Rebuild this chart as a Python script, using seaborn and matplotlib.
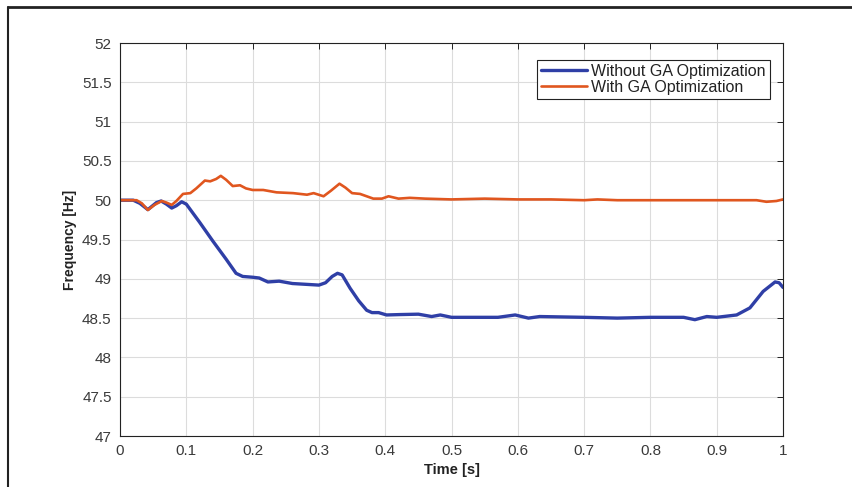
import numpy as np
import pandas as pd
import matplotlib
matplotlib.use("Agg")
import matplotlib.pyplot as plt
import seaborn as sns
from matplotlib.lines import Line2D

# Frequency response
t_without = [0.0, 0.02, 0.03, 0.042, 0.055, 0.062, 0.07, 0.078, 0.085, 0.093,
             0.1, 0.12, 0.14, 0.16, 0.175, 0.185, 0.2, 0.21, 0.223, 0.24,
             0.26, 0.28, 0.3, 0.31, 0.32, 0.328, 0.335, 0.347, 0.36, 0.372,
             0.38, 0.39, 0.402, 0.422, 0.45, 0.47, 0.483, 0.5, 0.57, 0.596,
             0.616, 0.633, 0.7, 0.75, 0.8, 0.85, 0.867, 0.885, 0.9, 0.93,
             0.95, 0.97, 0.988, 0.994, 1.0]
f_without = [50.0, 50.0, 49.96, 49.88, 49.97, 49.99, 49.95, 49.9, 49.93, 49.98,
             49.95, 49.72, 49.48, 49.25, 49.07, 49.03, 49.02, 49.01, 48.96, 48.97,
             48.94, 48.93, 48.92, 48.95, 49.03, 49.07, 49.05, 48.88, 48.72, 48.6,
             48.57, 48.57, 48.54, 48.545, 48.55, 48.52, 48.54, 48.51, 48.51, 48.54,
             48.5, 48.52, 48.51, 48.5, 48.51, 48.51, 48.48, 48.52, 48.51, 48.54,
             48.63, 48.84, 48.96, 48.95, 48.89]

t_with = [0.0, 0.025, 0.033, 0.042, 0.052, 0.063, 0.07, 0.078, 0.085, 0.095,
          0.106, 0.115, 0.128, 0.136, 0.145, 0.152, 0.16, 0.17, 0.181, 0.19,
          0.2, 0.216, 0.236, 0.261, 0.282, 0.292, 0.307, 0.318, 0.331, 0.34,
          0.35, 0.362, 0.372, 0.382, 0.395, 0.405, 0.42, 0.437, 0.46, 0.5,
          0.55, 0.6, 0.65, 0.7, 0.72, 0.75, 0.8, 0.9, 0.96, 0.975, 0.99, 1.0]
f_with = [50.0, 50.0, 49.96, 49.875, 49.94, 49.99, 49.97, 49.94, 49.99, 50.08,
          50.09, 50.15, 50.25, 50.24, 50.27, 50.31, 50.26, 50.18, 50.19, 50.15,
          50.13, 50.13, 50.1, 50.09, 50.07, 50.09, 50.05, 50.12, 50.21, 50.16,
          50.09, 50.08, 50.05, 50.02, 50.02, 50.05, 50.02, 50.03, 50.02, 50.01,
          50.02, 50.01, 50.01, 50.0, 50.01, 50.0, 50.0, 50.0, 50.0, 49.98, 49.99, 50.01]

x_ticks = np.round(np.arange(0, 1.01, 0.1), 1)
y_ticks = np.arange(47, 52.01, 0.5)
x_labels = ["0", "0.1", "0.2", "0.3", "0.4", "0.5", "0.6", "0.7", "0.8", "0.9", "1"]
y_labels = ["47", "47.5", "48", "48.5", "49", "49.5", "50", "50.5", "51", "51.5", "52"]

blue = "#2f3fa6"
orange = "#e0561f"

sns.set_theme(style="white")
plt.rcParams["font.family"] = ["Liberation Sans", "DejaVu Sans"]

fig = plt.figure(figsize=(8.53, 4.87), dpi=100)
ax = fig.add_axes([0.1407, 0.1047, 0.7773, 0.807])

df_without = pd.DataFrame({"t": t_without, "f": f_without})
df_with = pd.DataFrame({"t": t_with, "f": f_with})

sns.lineplot(data=df_without, x="t", y="f", ax=ax, color=blue, linewidth=2.4,
             estimator=None, label="Without GA Optimization",
             solid_joinstyle="round", solid_capstyle="round")
sns.lineplot(data=df_with, x="t", y="f", ax=ax, color=orange, linewidth=1.9,
             estimator=None, label="With GA Optimization",
             solid_joinstyle="round", solid_capstyle="round")

ax.set_xlim(0, 1)
ax.set_ylim(47, 52)
ax.set_xticks(x_ticks)
ax.set_xticklabels(x_labels)
ax.set_yticks(y_ticks)
ax.set_yticklabels(y_labels)
ax.grid(True, color="#dcdcdc", linewidth=0.8)
ax.tick_params(direction="in", length=4, width=0.7, color="#222222",
               labelcolor="#3a3a3a", labelsize=11, top=True, right=True, pad=6)
for s in ax.spines.values():
    s.set_color("#222222")
    s.set_linewidth(0.8)

ax.set_xlabel("Time [s]", fontsize=10.5, fontweight="bold", color="#222222", labelpad=3)
ax.set_ylabel("Frequency [Hz]", fontsize=10, fontweight="bold", color="#222222", labelpad=4)

leg = ax.legend(loc="upper right", bbox_to_anchor=(0.98, 0.957), fontsize=11.5,
                frameon=True, fancybox=False, framealpha=1, edgecolor="#222222",
                handlelength=2.9, handletextpad=0.25, borderpad=0.25,
                labelspacing=0.05, borderaxespad=0)
leg.get_frame().set_linewidth(0.8)
for txt in leg.get_texts():
    txt.set_color("#222222")

# page frame (top and left edges only)
fig.add_artist(Line2D([8 / 853, 1.0], [1 - 7 / 487, 1 - 7 / 487], color="#222222",
                      linewidth=2, transform=fig.transFigure))
fig.add_artist(Line2D([8 / 853, 8 / 853], [0.0, 1 - 7 / 487], color="#222222",
                      linewidth=1.5, transform=fig.transFigure))

fig.savefig("out.png", dpi=100)
